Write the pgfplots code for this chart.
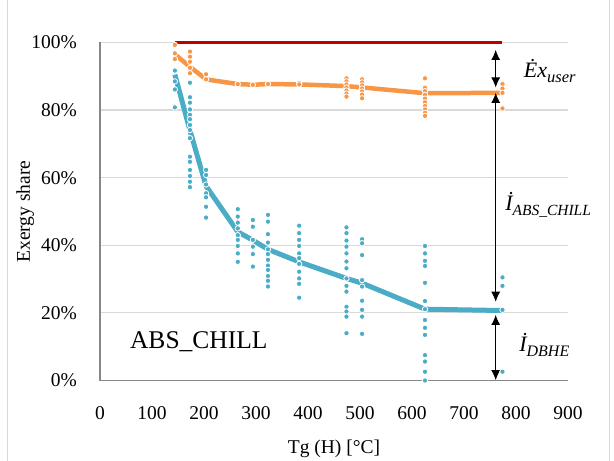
\documentclass[border=0pt]{standalone}
\usepackage{pgfplots}
\pgfplotsset{compat=1.18}
\usepackage{fontspec}
\setmainfont{Liberation Serif}
\usetikzlibrary{arrows.meta}
\definecolor{blueC}{HTML}{4BACC6}
\definecolor{orangeC}{HTML}{F79646}
\definecolor{redC}{HTML}{C00000}
\definecolor{gridC}{HTML}{D9D9D9}
\definecolor{axisC}{HTML}{878787}
\begin{document}
\begin{tikzpicture}
\useasboundingbox (-100pt,-80.5pt) rectangle (514pt,380.5pt);
\begin{axis}[
  at={(0,0)}, anchor=south west,
  width=468pt, height=338pt, scale only axis,
  xmin=0, xmax=900, ymin=0, ymax=100,
  xtick={0,100,...,900}, ytick={0,20,...,100},
  yticklabel={\pgfmathprintnumber{\tick}\%},
  /pgf/number format/assume math mode=true,
  tick label style={font=\fontsize{19.5}{19.5}\selectfont},
  xticklabel style={anchor=base, yshift=-38.5pt, inner sep=0pt},
  yticklabel style={anchor=east, xshift=-23pt, inner sep=0pt},
  major tick length=0pt,
  axis x line*=bottom, axis y line*=left,
  axis line style={draw=axisC, line width=1.3pt, -},
  ymajorgrids, grid style={draw=gridC, line width=1.2pt},
  xlabel={Tg (H) [°C]}, ylabel={Exergy share},
  label style={font=\fontsize{19.5}{19.5}\selectfont},
  xlabel style={at={(axis description cs:0.5,-0.215)}, anchor=base},
  ylabel style={at={(axis description cs:-0.16,0.5)}, anchor=center},
  clip=false,
]
% lines
\addplot[color=blueC, line width=5pt] coordinates {
(144,90.5) (173,74) (204,57.5) (265,44) (294,41.5) (323,38.8) (383,35.1) (474,30.2) (504,28.8) (625,21.1) (774,20.7)};
\addplot[color=orangeC, line width=4.5pt] coordinates {
(144,96.5) (173,92.8) (204,89.1) (265,87.7) (294,87.5) (323,87.7) (383,87.6) (474,87.1) (504,86.7) (625,85.0) (774,85.1)};
\addplot[color=redC, line width=3.2pt] coordinates {(144,100) (774,100)};
% scatter dots
\addplot[only marks, mark=*, mark size=2.7pt, mark options={fill=orangeC, draw=white, line width=0.8pt}] coordinates {
(144,99.3) (144,96.8) (144,95.1)
(173,97.3) (173,95.8) (173,94.3) (173,92.5) (173,90.9)
(204,90.6) (204,89.1)
(265,87.7) (294,87.5) (323,87.7) (383,88.0) (383,87.6)
(474,89.4) (474,88.5) (474,87.6) (474,86.7) (474,85.8) (474,84.9) (474,84.0)
(504,89.1) (504,88.2) (504,87.3) (504,86.4) (504,85.5) (504,84.6) (504,83.5)
(625,89.4) (625,86.6) (625,85.6) (625,84.5) (625,83.4) (625,82.3) (625,81.2) (625,80.2) (625,79.2) (625,78.3)
(774,87.7) (774,86.4) (774,85.1) (774,80.5)
};
\addplot[only marks, mark=*, mark size=2.7pt, mark options={fill=blueC, draw=white, line width=0.8pt}] coordinates {
(144,91.7) (144,88.5) (144,86.1) (144,80.8)
(173,88.1) (173,83.8) (173,82.2) (173,80.2) (173,78.6) (173,77.3) (173,75.6) (173,74.1) (173,71.7) (173,66.2) (173,64.7) (173,62.3) (173,60.5) (173,58.8) (173,57.2)
(204,62.3) (204,60.8) (204,58.0) (204,55.4) (204,54.2) (204,51.4) (204,48.2)
(265,50.7) (265,48.5) (265,46.7) (265,45.0) (265,43.0) (265,41.6) (265,39.8) (265,37.6) (265,35.1)
(294,47.5) (294,45.5) (294,41.6) (294,39.6) (294,37.4) (294,33.7)
(323,49.0) (323,47.0) (323,43.3) (323,40.8) (323,38.8) (323,37.4) (323,35.7) (323,34.0) (323,32.7) (323,30.9) (323,29.5) (323,27.8)
(383,45.8) (383,43.6) (383,41.6) (383,39.8) (383,37.6) (383,36.2) (383,34.5) (383,32.2) (383,30.2) (383,28.6) (383,24.5)
(474,45.3) (474,43.6) (474,41.4) (474,39.6) (474,37.6) (474,35.2) (474,33.2) (474,30.2) (474,28.0) (474,26.3) (474,21.8) (474,20.4) (474,18.9) (474,14.0)
(504,41.8) (504,40.6) (504,37.1) (504,29.7) (504,27.8) (504,23.6) (504,20.9) (504,18.9) (504,13.8)
(625,39.8) (625,37.6) (625,35.4) (625,33.9) (625,28.9) (625,23.5) (625,21.1) (625,17.9) (625,15.6) (625,13.5) (625,7.5) (625,5.6) (625,2.6) (625,0)
(774,30.5) (774,28.0) (774,20.9) (774,2.6)
};
% arrows
\draw[line width=0.9pt, {Latex[length=10pt,width=9pt]}-{Latex[length=10pt,width=9pt]}] (axis cs:761,97.8) -- (axis cs:761,86.7);
\draw[line width=0.9pt, {Latex[length=10pt,width=9pt]}-{Latex[length=10pt,width=9pt]}] (axis cs:761,85.1) -- (axis cs:761,23.3);
\draw[line width=0.9pt, {Latex[length=10pt,width=9pt]}-{Latex[length=10pt,width=9pt]}] (axis cs:761,19.4) -- (axis cs:761,0.1);
% labels
\node[anchor=base west, inner sep=0pt] at (axis cs:815,89.7) {\fontsize{22}{22}\selectfont\itshape Ėx\raisebox{-5pt}{\fontsize{16.5}{16.5}\selectfont user}};
\node[anchor=base west, inner sep=0pt] at (axis cs:779,50.4) {\fontsize{22}{22}\selectfont\itshape İ\raisebox{-5pt}{\fontsize{15.5}{15.5}\selectfont ABS\_CHILL}};
\node[anchor=base west, inner sep=0pt] at (axis cs:806,8.5) {\fontsize{22}{22}\selectfont\itshape İ\raisebox{-5pt}{\fontsize{16}{16}\selectfont DBHE}};
\node[anchor=center, inner sep=0pt] at (axis cs:190,11.4) {\fontsize{25.5}{25.5}\selectfont ABS\_CHILL};
\end{axis}
\draw[gridC, line width=1pt] (-92pt,-80.5pt) -- (-92pt,380.5pt);
\draw[gridC, line width=1pt] (509pt,-80.5pt) -- (509pt,380.5pt);
\end{tikzpicture}
\end{document}
